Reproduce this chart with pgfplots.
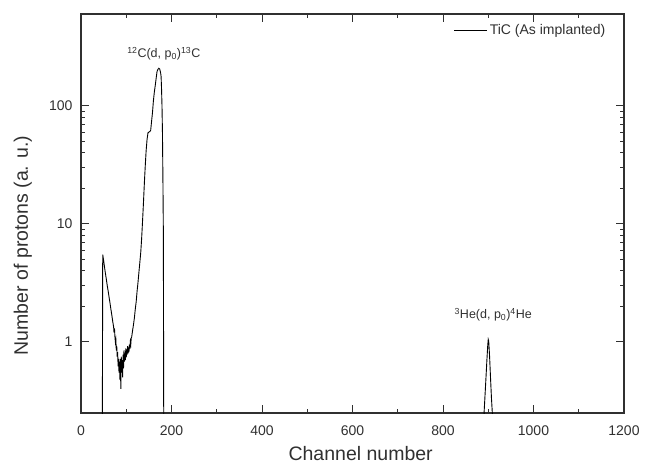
\documentclass[border=0pt]{standalone}
\usepackage{fontspec}
\setmainfont{Liberation Sans}
\usepackage{pgfplots}
\pgfplotsset{compat=1.18}
\definecolor{axgray}{HTML}{303030}
\begin{document}
\begin{tikzpicture}
\useasboundingbox (-81pt,-51pt) rectangle (568pt,413pt);
\begin{axis}[
  scale only axis,
  width=543pt, height=399pt,
  xmin=0, xmax=1200,
  ymode=log, ymin=0.25, ymax=600,
  xtick={0,200,...,1200},
  minor x tick num=1,
  ytick={1,10,100},
  yticklabels={1,10,100},
  tick align=inside,
  major tick length=8pt,
  minor tick length=4pt,
  axis line style={axgray, line width=1.1pt},
  every tick/.style={axgray, line width=0.9pt},
  /pgf/number format/assume math mode=true,
  tick label style={font=\fontsize{14}{16}\selectfont, text=axgray},
  xticklabel style={yshift=-9pt},
  yticklabel style={xshift=-5pt},
  xticklabel={\pgfmathprintnumber[fixed,precision=0,1000 sep={}]{\tick}},
  xlabel={Channel number},
  ylabel={Number of protons (a. u.)},
  label style={font=\fontsize{19.5}{22}\selectfont, text=axgray},
  xlabel style={at={(axis description cs:0.515,-0.1028)}, anchor=center},
  ylabel style={at={(axis description cs:-0.107,0.42)}, anchor=center, rotate=0},
  unbounded coords=jump,
  legend style={draw=none, fill=none, at={(axis description cs:0.975,0.985)}, anchor=north east, font=\fontsize{14}{16}\selectfont, text=axgray},
  legend image code/.code={\draw[#1] (0pt,0pt) -- (33pt,0pt);},
  clip=true,
]
\addplot[black, line width=0.9pt] table {
x y
47 0.1
48 5.5
50 4.9
52 4.3
54 3.8
56 3.4
58 3.0
60 2.7
62 2.4
64 2.15
66 1.9
68 1.7
70 1.5
72 1.35
73 1.2
74 1.3
75 1.1
76 1.0
77 1.05
78 0.85
79 0.92
80 0.75
81 0.82
82 0.62
83 0.72
84 0.55
85 0.68
86 0.48
87 0.72
88 0.40
89 0.75
90 0.55
91 0.70
92 0.50
93 0.78
94 0.60
95 0.85
96 0.68
97 0.80
98 0.70
99 0.88
100 0.74
101 0.86
102 0.78
103 0.92
104 0.80
105 0.90
106 0.82
107 0.95
108 0.88
109 1.0
110 0.95
111 1.08
112 1.1
114 1.25
116 1.4
118 1.6
120 1.9
122 2.2
124 2.7
126 3.2
128 3.9
130 4.7
132 5.7
134 7.5
136 10.5
138 15
140 22
142 31
144 42
146 52
148 59
150 60
152 60.5
154 62
156 74
158 88
160 110
162 130
164 148
166 170
168 195
170 204
172 208
174 205
176 190
177 177
178 140
179 100
180 60
181 25
182 8.5
183 0.1
500 nan
890 0.1
891 0.26
893 0.36
895 0.5
897 0.7
899 0.95
900 1.05
901 1.02
903 0.75
905 0.5
907 0.34
909 0.25
910 0.1
};
\addlegendentry{TiC (As implanted)}
\node[font=\fontsize{12.5}{14}\selectfont, text=axgray] at (axis cs:183,276) {\textsuperscript{12}C(d, p\textsubscript{0})\textsuperscript{13}C};
\node[font=\fontsize{12.5}{14}\selectfont, text=axgray] at (axis cs:911,1.69) {\textsuperscript{3}He(d, p\textsubscript{0})\textsuperscript{4}He};
\end{axis}
\end{tikzpicture}
\end{document}
